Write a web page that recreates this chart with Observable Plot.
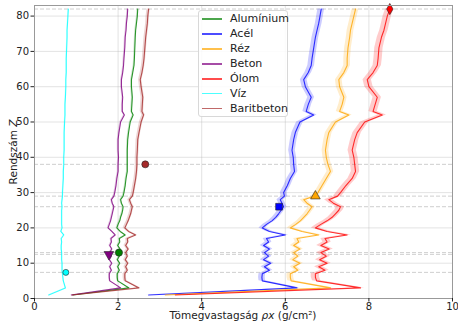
<!DOCTYPE html>
<html><head><meta charset="utf-8">
<script src="https://cdn.jsdelivr.net/npm/d3@7"></script>
<script src="https://cdn.jsdelivr.net/npm/@observablehq/plot@0.6"></script>
<style>
body{margin:0;background:#fff;}
#wrap{position:relative;width:458px;height:322px;font-family:"DejaVu Sans",sans-serif;}
#legend{position:absolute;left:198px;top:10px;width:90px;height:107px;border:1px solid #d8d8d8;border-radius:3px;background:rgba(255,255,255,0.85);box-sizing:border-box;}
.item{position:absolute;left:3px;height:14px;width:84px;font-size:11px;line-height:14px;color:#222;white-space:nowrap;}
.item .sw{position:absolute;left:0;top:6px;width:20px;height:1.5px;}
.item span{position:absolute;left:28px;top:0;}
</style>
</head><body>
<div id="wrap"></div>
<script>
const names = ["Alumínium","Acél","Réz","Beton","Ólom","Víz","Baritbeton"];
const colors = ["#008000","#0000ff","#ffa500","#800080","#ff0000","#00ffff","#a52a2a"];
const Z = [1,3,5,6,7,8,9,10,11,12,13,14,15,16,17,18,19,20,21,22,23,24,25,26,27,28,29,30,32,34,36,38,40,42,45,47,50,52,53,55,57,60,62,64,66,68,71,74,76,78,80,82];
const acel = [2.73,6.28,5.45,5.44,5.45,5.62,5.50,5.65,5.48,5.60,5.50,5.62,5.48,5.60,5.55,6.00,5.62,5.45,5.55,5.68,5.77,5.84,5.90,5.96,5.92,5.88,5.98,5.96,6.05,6.12,6.22,6.20,6.19,6.16,6.20,6.24,6.35,6.68,6.50,6.55,6.62,6.48,6.44,6.55,6.62,6.64,6.68,6.72,6.76,6.80,6.83,6.86];
const rez = [3.13,7.08,6.14,6.12,6.12,6.30,6.20,6.35,6.18,6.30,6.20,6.35,6.20,6.32,6.28,6.80,6.40,6.12,6.25,6.36,6.44,6.52,6.58,6.64,6.52,6.44,6.70,6.78,6.88,6.98,7.08,7.02,6.98,6.96,7.00,7.04,7.20,7.52,7.30,7.36,7.40,7.30,7.28,7.40,7.48,7.48,7.50,7.54,7.56,7.60,7.64,7.68];
const olom = [3.37,7.80,6.75,6.72,6.72,6.95,6.80,7.00,6.82,6.98,6.85,7.05,6.85,7.00,6.95,7.48,7.00,6.72,6.85,7.00,7.12,7.20,7.28,7.32,7.15,7.04,7.25,7.32,7.45,7.60,7.68,7.66,7.64,7.60,7.66,7.72,7.90,8.32,8.10,8.15,8.20,8.00,7.96,8.10,8.20,8.22,8.24,8.30,8.36,8.40,8.44,8.50];
const beton = [0.88,2.06,1.80,1.79,1.79,1.84,1.80,1.85,1.79,1.84,1.80,1.85,1.80,1.84,1.83,1.93,1.85,1.76,1.79,1.82,1.84,1.86,1.88,1.90,1.86,1.84,1.90,1.92,1.95,1.97,2.00,2.00,2.01,2.00,2.00,2.02,2.06,2.15,2.10,2.10,2.11,2.08,2.08,2.11,2.13,2.14,2.16,2.17,2.19,2.20,2.22,2.23];
const aluminium = [0.92,2.26,1.99,1.98,1.98,2.03,1.99,2.04,1.98,2.03,1.99,2.05,1.99,2.04,2.03,2.17,2.05,1.97,2.00,2.04,2.06,2.09,2.11,2.12,2.08,2.06,2.12,2.14,2.17,2.19,2.22,2.22,2.22,2.22,2.23,2.25,2.29,2.36,2.32,2.33,2.34,2.32,2.32,2.35,2.38,2.39,2.40,2.41,2.42,2.44,2.46,2.47];
const baritbeton = [0.90,2.50,2.17,2.16,2.16,2.22,2.18,2.23,2.17,2.22,2.18,2.24,2.18,2.23,2.22,2.42,2.25,2.16,2.20,2.24,2.27,2.30,2.32,2.34,2.30,2.27,2.34,2.36,2.39,2.42,2.44,2.45,2.45,2.46,2.47,2.50,2.55,2.61,2.57,2.58,2.59,2.55,2.53,2.57,2.60,2.62,2.64,2.66,2.68,2.70,2.71,2.73];
const viz = [0.34,0.74,0.69,0.68,0.67,0.66,0.66,0.66,0.65,0.65,0.65,0.64,0.64,0.65,0.64,0.70,0.63,0.66,0.65,0.65,0.65,0.65,0.65,0.66,0.65,0.66,0.67,0.67,0.68,0.69,0.69,0.70,0.70,0.71,0.71,0.71,0.72,0.73,0.73,0.73,0.74,0.75,0.75,0.76,0.76,0.76,0.77,0.78,0.78,0.79,0.80,0.81];
const seriesValues = {"Alumínium":aluminium,"Acél":acel,"Réz":rez,"Beton":beton,"Ólom":olom,"Víz":viz,"Baritbeton":baritbeton};
const uncertainty = {"Alumínium":0.02,"Acél":0.08,"Réz":0.08,"Beton":0.02,"Ólom":0.1,"Víz":0.01,"Baritbeton":0.04};
const markerName = ["Víz","Beton","Alumínium","Baritbeton","Acél","Réz","Ólom"];
const markerX = [0.75,1.78,2.02,2.65,5.85,6.72,8.5];
const markerZ = [7.4,12.5,13,38,26,29,82];
const xTicks = [0,2,4,6,8,10];
const yTicks = [0,10,20,30,40,50,60,70,80];

const downTriangle = {draw(ctx, size){const y=Math.sqrt(size/(Math.sqrt(3)*3));ctx.moveTo(0,y*2);ctx.lineTo(-Math.sqrt(3)*y,-y);ctx.lineTo(Math.sqrt(3)*y,-y);ctx.closePath();}};
const markerSymbol = {"Víz":"circle","Beton":downTriangle,"Alumínium":"circle","Baritbeton":"circle","Acél":"square","Réz":"triangle","Ólom":"diamond"};
const markerR = {"Víz":3,"Beton":3.6,"Alumínium":3.6,"Baritbeton":3.5,"Acél":3.8,"Réz":3.6,"Ólom":3.4};

const rows = [];
for (const n of names) seriesValues[n].forEach((v,i)=>rows.push({series:n, Z:Z[i], v, lo:v-uncertainty[n], hi:v+uncertainty[n]}));
const markers = markerName.map((n,i)=>({series:n, x:markerX[i], Z:markerZ[i]}));
const colorOf = Object.fromEntries(names.map((n,i)=>[n,colors[i]]));

const chart = Plot.plot({
  width:458, height:322,
  marginLeft:34, marginRight:6, marginTop:5, marginBottom:24,
  style:{fontFamily:"DejaVu Sans", fontSize:"10px", background:"white", color:"#222", overflow:"visible"},
  x:{domain:[0,10]},
  y:{domain:[0,83]},
  color:{domain:names, range:colors},
  marks:[
    Plot.gridX(xTicks,{stroke:"#b0b0b0", strokeOpacity:0.35}),
    Plot.gridY(yTicks,{stroke:"#b0b0b0", strokeOpacity:0.35}),
    Plot.ruleY(markerZ,{stroke:"#a8a8a8", strokeOpacity:0.7, strokeDasharray:"4,2", strokeWidth:0.8}),
    Plot.areaX(rows,{y:"Z", x1:"lo", x2:"hi", z:"series", fill:"series", fillOpacity:0.2}),
    Plot.lineX(rows,{x:"v", y:"Z", z:"series", stroke:"series", strokeWidth:1.1, strokeOpacity:0.8}),
    ...markers.map(m=>Plot.dot([m],{x:"x", y:"Z", fill:colorOf[m.series], stroke:"#222", strokeWidth:0.6, symbol:markerSymbol[m.series], r:markerR[m.series]})),
    Plot.frame({stroke:"#999"}),
    Plot.axisX(xTicks,{tickSize:3.5, tickPadding:1, label:null, fontSize:10}),
    Plot.axisY(yTicks,{tickSize:3.5, tickPadding:2, label:"Rendszám Z", labelAnchor:"center", labelArrow:"none", labelOffset:25, fontSize:10})
  ]
});
document.getElementById("wrap").appendChild(chart);
const yl = chart.querySelector('g[aria-label="y-axis label"] text');
if (yl) { yl.innerHTML = 'Rendszám <tspan font-style="italic">Z</tspan>'; yl.setAttribute("font-size","10.5"); }
const xs = chart.scale("x");
const xCenter = (xs.apply(xs.domain[0]) + xs.apply(xs.domain[1])) / 2;
d3.select(chart).append("text")
  .attr("x", xCenter).attr("y", 319)
  .attr("text-anchor","middle").attr("font-size","10.5").attr("fill","#222")
  .attr("font-family","DejaVu Sans")
  .html('Tömegvastagság <tspan font-style="italic">ρx</tspan> (g/cm²)');

const leg = document.createElement("div"); leg.id="legend";
const centers = [8.3,23.3,38.3,53.3,68.3,82.7,97.7];
names.forEach((n,i)=>{
  const it=document.createElement("div"); it.className="item"; it.style.top=(centers[i]-7)+"px";
  const sw=document.createElement("div"); sw.className="sw"; sw.style.background=colorOf[n]; sw.style.opacity=0.7;
  const t=document.createElement("span"); t.textContent=n;
  it.appendChild(sw); it.appendChild(t); leg.appendChild(it);
});
document.getElementById("wrap").appendChild(leg);
</script>
</body></html>
